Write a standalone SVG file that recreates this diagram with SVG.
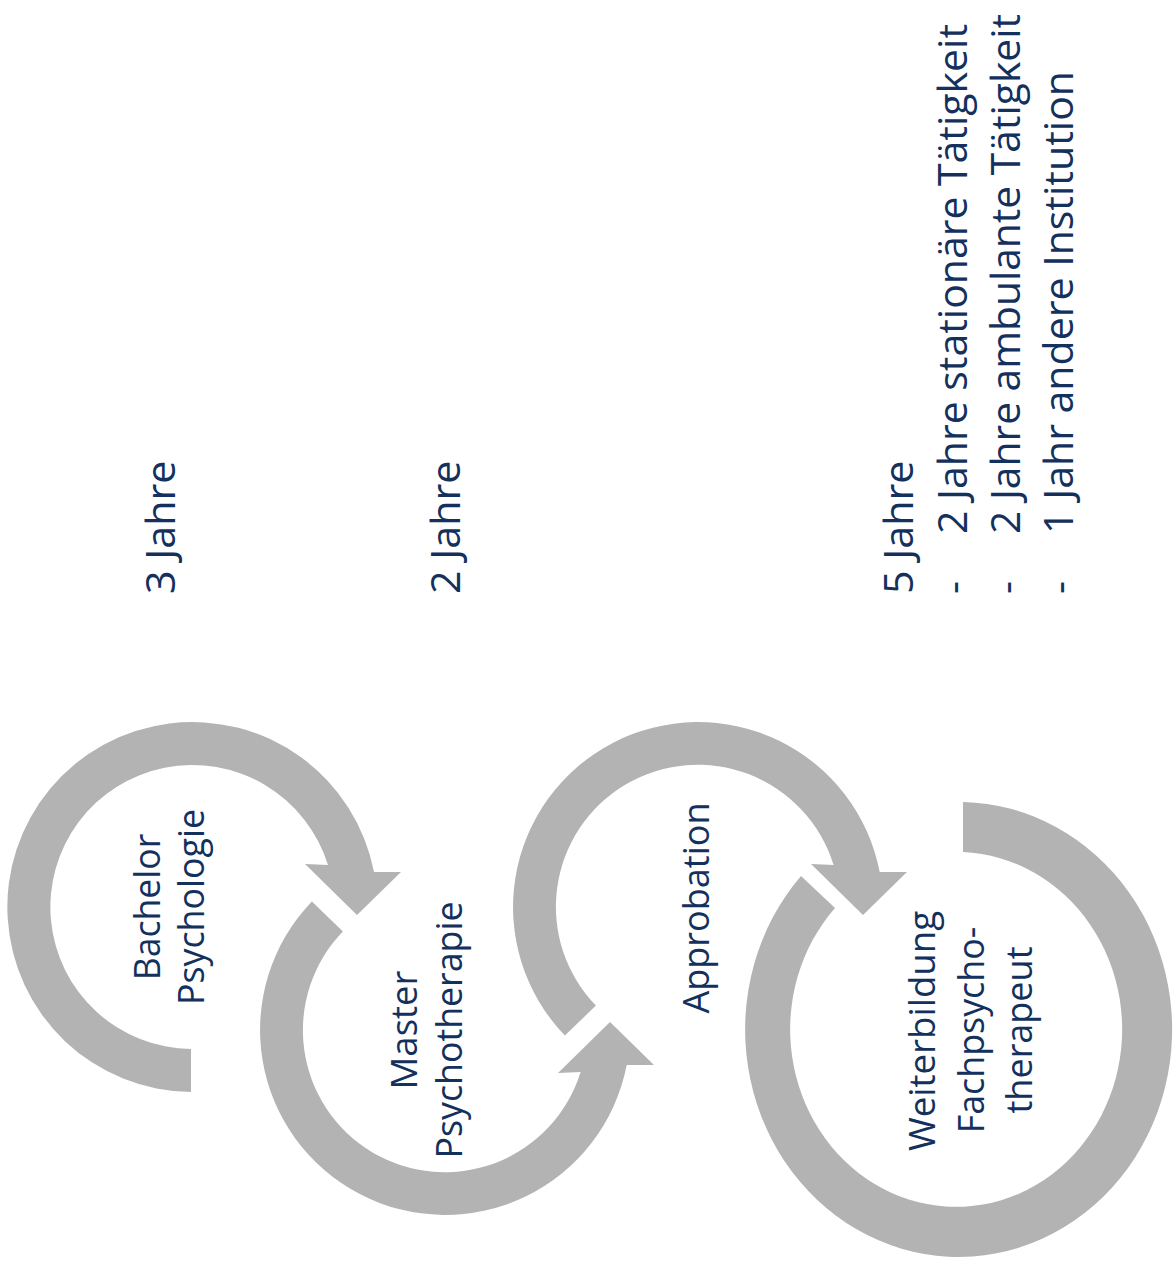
<svg xmlns="http://www.w3.org/2000/svg" width="1173" height="1270" viewBox="0 0 1173 1270">
<style>
.arrow{fill:#b3b3b3;stroke:none}
.lbl{font-family:"Open Sans","Noto Sans","Liberation Sans",sans-serif;fill:#14305c;font-size:36.5px;text-anchor:middle}
.side{font-family:"Open Sans","Noto Sans","Liberation Sans",sans-serif;fill:#14305c;font-size:40.5px;text-anchor:start}
</style>
<rect width="1173" height="1270" fill="#ffffff"/>
<g id="connectors"></g>
<g id="node-bachelor">
<path class="arrow" d="M191,1092 A185,185 0 1 1 374,872 L401,872 L357,915 L305,864 L328,865 A142,142 0 1 0 191,1049 Z"/>
<text class="lbl" x="160" y="907" transform="rotate(-90 160 907)" textLength="146.5" lengthAdjust="spacingAndGlyphs">Bachelor</text>
<text class="lbl" x="204" y="907" transform="rotate(-90 204 907)" textLength="196" lengthAdjust="spacingAndGlyphs">Psychologie</text>
</g>
<g id="node-master">
<path class="arrow" d="M311.9,901.5 A185,185 0 1 0 626.7,1065 L654,1065 L610,1022 L558,1073 L580.6,1072 A142,142 0 1 1 342.9,931.4 Z"/>
<text class="lbl" x="417" y="1030" transform="rotate(-90 417 1030)" textLength="119" lengthAdjust="spacingAndGlyphs">Master</text>
<text class="lbl" x="462" y="1030" transform="rotate(-90 462 1030)" textLength="257" lengthAdjust="spacingAndGlyphs">Psychotherapie</text>
</g>
<g id="node-approbation">
<path class="arrow" d="M564.9,1035.5 A185,185 0 1 1 879.7,872 L907,872 L863,915 L811,864 L833.6,865 A142,142 0 1 0 595.9,1005.6 Z"/>
<text class="lbl" x="709" y="908" transform="rotate(-90 709 908)" textLength="211" lengthAdjust="spacingAndGlyphs">Approbation</text>
</g>
<g id="node-weiterbildung">
<path class="arrow" d="M801,876 A213.5,227.5 0 1 0 963,802 L963,852 A166,177.5 0 1 1 835,908 Z"/>
<text class="lbl" x="935" y="1031" transform="rotate(-90 935 1031)" textLength="240" lengthAdjust="spacingAndGlyphs">Weiterbildung</text>
<text class="lbl" x="984" y="1030" transform="rotate(-90 984 1030)" textLength="206.5" lengthAdjust="spacingAndGlyphs">Fachpsycho-</text>
<text class="lbl" x="1032" y="1030" transform="rotate(-90 1032 1030)" textLength="167" lengthAdjust="spacingAndGlyphs">therapeut</text>
</g>
<g id="duration-bachelor">
<text class="side" x="175" y="594" transform="rotate(-90 175 594)" textLength="133.5" lengthAdjust="spacingAndGlyphs">3 Jahre</text>
</g>
<g id="duration-master">
<text class="side" x="460" y="594" transform="rotate(-90 460 594)" textLength="133.5" lengthAdjust="spacingAndGlyphs">2 Jahre</text>
</g>
<g id="duration-weiterbildung">
<text class="side" x="913" y="594" transform="rotate(-90 913 594)" textLength="133.5" lengthAdjust="spacingAndGlyphs">5 Jahre</text>
<text class="side" x="967" y="594" transform="rotate(-90 967 594)">-</text>
<text class="side" x="967" y="534" transform="rotate(-90 967 534)" textLength="510" lengthAdjust="spacingAndGlyphs">2 Jahre stationäre Tätigkeit</text>
<text class="side" x="1020" y="594" transform="rotate(-90 1020 594)">-</text>
<text class="side" x="1020" y="534" transform="rotate(-90 1020 534)" textLength="520" lengthAdjust="spacingAndGlyphs">2 Jahre ambulante Tätigkeit</text>
<text class="side" x="1073" y="594" transform="rotate(-90 1073 594)">-</text>
<text class="side" x="1073" y="534" transform="rotate(-90 1073 534)" textLength="463" lengthAdjust="spacingAndGlyphs">1 Jahr andere Institution</text>
</g>
</svg>
